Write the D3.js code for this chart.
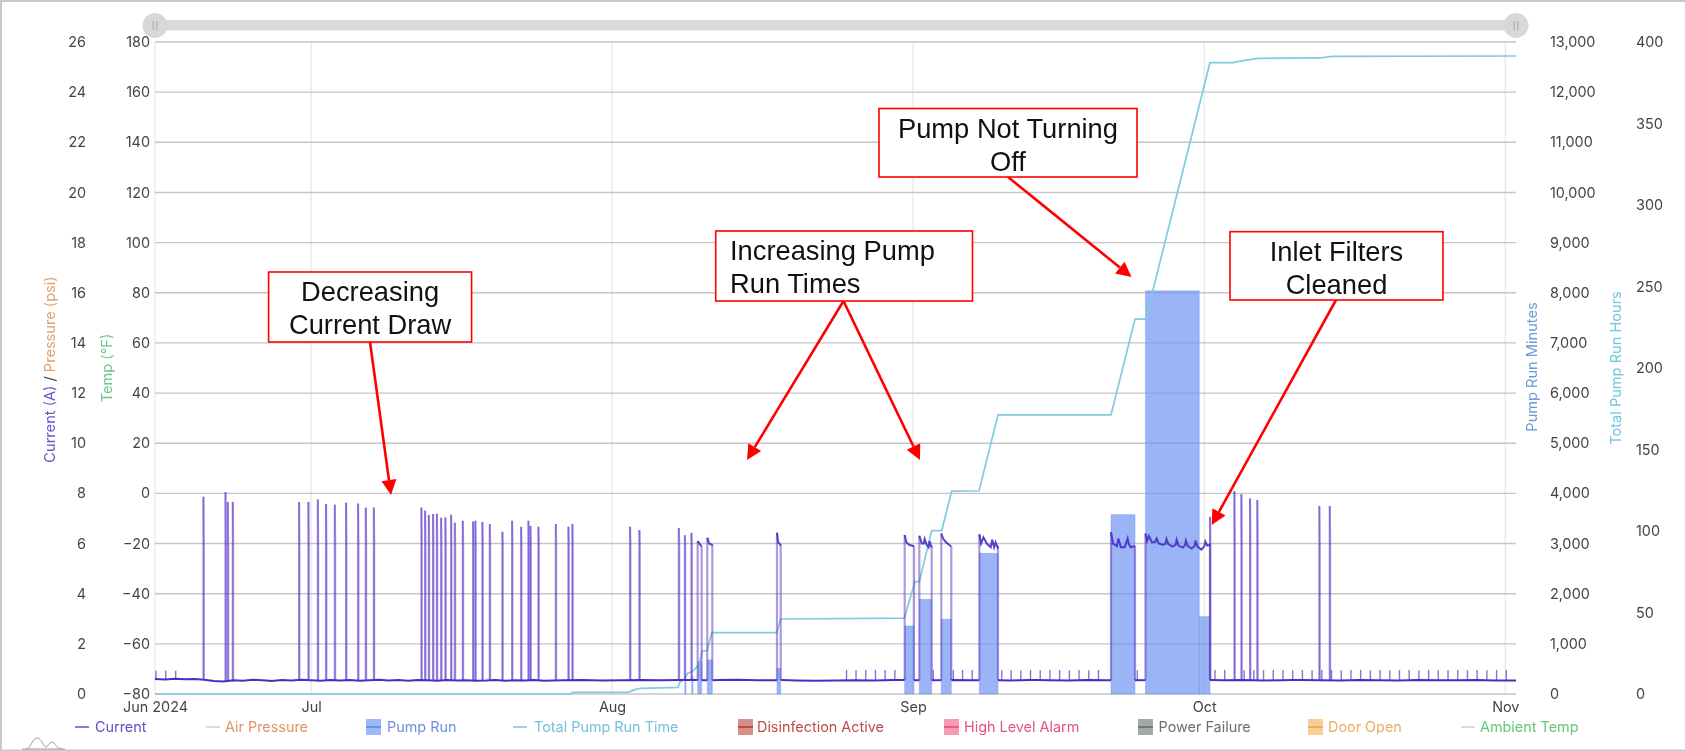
<!DOCTYPE html>
<html><head><meta charset="utf-8">
<script src="https://cdn.jsdelivr.net/npm/d3@7"></script>
<style>
html,body{margin:0;padding:0;background:#fff}
svg{display:block}
.tick text{font-family:Inter,"Liberation Sans",sans-serif;font-size:14.4px;fill:#444}
.ann{font-family:"Liberation Sans",Arial,sans-serif;font-size:27.3px;fill:#111}
.leg{font-family:Inter,"Liberation Sans",sans-serif;font-size:14.4px}
.ttl{font-family:Inter,"Liberation Sans",sans-serif;font-size:14.6px}
</style></head><body>
<div id="c"></div>
<script>
// All times are days since 1 Jun 2024
const xDomainDays=[13.93,154.1];
const xTickDays=[13.93,30,61,92,122,153];
const xTickLabels=["Jun 2024","Jul","Aug","Sep","Oct","Nov"];
const currentTicks=[0,2,4,6,8,10,12,14,16,18,20,22,24,26];
const pressureTicks=[-80,-60,-40,-20,0,20,40,60,80,100,120,140,160,180];
const pumpTicks=[0,1000,2000,3000,4000,5000,6000,7000,8000,9000,10000,11000,12000,13000];
const hourTicks=[0,50,100,150,200,250,300,350,400];

// Pump Run bars
const pumpStart=[68.49,69.21,69.82,70.81,77.99,91.14,92.65,94.91,98.83,112.39,115.94,121.48];
const pumpEnd  =[68.62,69.34,70.23,71.33,78.37,92.10,93.92,95.94,100.75,114.86,121.48,122.58];
const pumpMinutes=[245,345,644,678,512,1356,1887,1489,2805,3576,8040,1542];

// Total Pump Run Time
const totalDays=[13.93,56.8,56.9,62.75,63.26,63.9,67.8,68.0,68.4,68.8,69.2,69.75,70.06,70.27,70.8,71.27,77.96,78.37,91.1,92.2,92.65,93.92,94.95,95.98,98.8,100.75,112.39,114.86,115.96,122.58,124.95,125.67,127.53,133.9,135.15,154.1];
const totalHours=[0,0,1,1.2,2.5,3.5,4.1,7.4,8.6,12.9,13.5,16.6,19.8,26.4,26.6,37.6,37.6,46,46.6,68.9,68.9,100.2,100.2,124.5,124.7,171.2,171.2,230,230,387.3,387.3,388.3,390,390.2,391.2,391.4];

// Current: idle baseline
const baseDays=[13.93,15,16,17,18,19,20,21,22,23,24,25,26,27,28,29,30,31,32,33,34,35,36,37,38,39,40,41,42,43,44,45,46,47,48,49,50,51,52,53,54,55,56,58,60,62,64,66,68,70,72,74,76,78,80,82,84,86,88,90,92,94,96,98,100,102,104,106,108,110,112,114,116,118,120,122,124,126,128,130,132,134,136,138,140,142,144,146,148,150,152,154.1];
const baseAmps=[0.60,0.58,0.61,0.59,0.60,0.57,0.52,0.50,0.55,0.53,0.57,0.55,0.52,0.56,0.54,0.57,0.55,0.53,0.56,0.54,0.56,0.53,0.55,0.57,0.54,0.56,0.53,0.56,0.55,0.53,0.56,0.54,0.55,0.53,0.54,0.56,0.53,0.55,0.54,0.56,0.53,0.54,0.55,0.56,0.54,0.55,0.56,0.55,0.56,0.55,0.56,0.57,0.55,0.56,0.54,0.53,0.54,0.55,0.54,0.56,0.55,0.55,0.56,0.55,0.55,0.54,0.56,0.55,0.54,0.56,0.55,0.55,0.55,0.55,0.55,0.56,0.55,0.56,0.54,0.55,0.56,0.55,0.54,0.56,0.55,0.54,0.56,0.55,0.55,0.56,0.54,0.55];

// Current: tall start-up spikes
const spikeDays=[18.91,21.18,21.42,21.93,28.76,29.72,30.69,31.54,32.44,33.60,34.84,35.63,36.46,41.36,41.74,42.12,42.56,42.95,43.39,43.83,44.42,44.80,45.62,46.68,46.92,47.64,48.40,49.70,50.70,51.63,52.38,52.59,53.41,55.20,56.50,56.91,62.85,63.81,67.87,68.49,69.17,122.58,125.09,125.81,126.70,127.45,133.84,134.91];
const spikeAmps=[7.87,8.05,7.66,7.66,7.66,7.66,7.76,7.58,7.55,7.63,7.6,7.43,7.44,7.44,7.31,7.14,7.18,7.19,7.03,7.04,7.15,6.83,6.91,6.88,6.91,6.86,6.78,6.47,6.91,6.67,6.91,6.70,6.67,6.78,6.67,6.78,6.67,6.54,6.62,6.33,6.43,7.07,8.09,7.97,7.8,7.74,7.5,7.5];

// Current: small daily blips
const blipDays=[14.03,15.03,16.06,85.15,86.13,87.13,88.13,89.13,90.13,94.09,96.15,97.1,98.1,101.13,102.1,103.1,104.1,105.1,106.1,107.1,108.1,109.1,110.1,111.1,115.1,123.1,124.1,126.1,127.1,128.1,129.1,130.1,131.1,132.1,133.1,134.1,135.1,136.1,137.1,138.1,139.1,140.1,141.1,142.1,143.1,144.1,145.1,146.1,147.1,148.1,149.1,150.1,151.1,152.1,153.1];
const blipAmps=[0.93,0.93,0.93,0.96,0.96,0.96,0.96,0.96,0.96,0.96,0.96,0.96,0.96,0.95,0.96,0.95,0.96,0.95,0.96,0.96,0.95,0.96,0.95,0.96,0.95,0.96,0.96,0.95,0.96,0.95,0.96,0.96,0.95,0.96,0.95,0.96,0.96,0.95,0.96,0.96,0.95,0.96,0.95,0.96,0.96,0.95,0.96,0.95,0.96,0.96,0.95,0.96,0.95,0.96,0.96];

// Current: sustained pump-on periods
const runStart=[69.82,70.81,77.99,91.14,92.65,94.91,98.83,112.39,115.94];
const runEnd  =[70.23,71.33,78.37,92.10,93.92,95.94,100.75,114.86,122.58];
const runPeak =[6.1,6.23,6.43,6.34,6.31,6.4,6.37,6.45,6.4];
const plateauDays=[70.0,70.2,71.0,71.3,78.1,78.35,91.3,91.6,92.0,92.9,93.1,93.2,93.4,93.6,93.7,93.9,95.1,95.4,95.7,95.9,99.0,99.25,99.6,100.0,100.15,100.35,100.5,100.7,112.6,113.0,113.15,113.4,113.8,114.1,114.2,114.4,114.85,116.1,116.3,116.6,116.9,117.1,117.3,117.7,118.0,118.1,118.3,118.7,119.05,119.15,119.35,119.8,120.0,120.1,120.3,120.7,121.0,121.1,121.3,121.7,122.0,122.1,122.3,122.55];
const plateauAmps=[6.0,5.9,6.0,5.95,6.05,5.95,6.05,5.95,5.9,6.0,6.0,6.18,5.95,5.85,6.1,5.85,6.2,6.05,5.95,5.9,6.0,6.25,6.0,5.85,6.15,5.85,6.05,5.85,6.0,5.9,6.2,5.85,5.85,6.2,6.0,5.85,5.9,6.1,6.3,6.05,6.05,6.2,6.0,5.95,5.98,6.18,5.98,5.88,5.95,6.15,5.92,5.84,5.92,6.12,5.9,5.8,5.9,6.12,5.88,5.76,5.9,6.08,5.92,5.95];

const legendItems=[
 {name:"Current",kind:"line",x:75,tx:95,line:"#6a4cc8",text:"#6a4cc8"},
 {name:"Air Pressure",kind:"line",x:206,tx:225,line:"#cfcfcf",text:"#e09468"},
 {name:"Pump Run",kind:"box",x:366,tx:387,line:"#5f84ea",fill:"#9db8f6",text:"#6f8fe0"},
 {name:"Total Pump Run Time",kind:"line",x:513,tx:534,line:"#7cc6e0",text:"#74c2dc"},
 {name:"Disinfection Active",kind:"box",x:738,tx:757,line:"#b83a36",fill:"#d88f8c",text:"#bf4a48"},
 {name:"High Level Alarm",kind:"box",x:944,tx:964,line:"#e8507a",fill:"#f79ab2",text:"#e4547c"},
 {name:"Power Failure",kind:"box",x:1138,tx:1158.6,line:"#666c6c",fill:"#a4a8a8",text:"#6a7070"},
 {name:"Door Open",kind:"box",x:1308,tx:1328,line:"#eaa648",fill:"#f7cf94",text:"#e8b060"},
 {name:"Ambient Temp",kind:"line",x:1461,tx:1480,line:"#cfcfcf",text:"#60c878"}
];

const W=1685,H=751,L=155,R=1516,T=42,B=694;
const t0=Date.UTC(2024,5,1);
const toDate=d=>new Date(t0+d*864e5);
const x=d3.scaleUtc().domain(xDomainDays.map(toDate)).range([L,R]);
const xd=d=>x(toDate(d));
const yC=d3.scaleLinear().domain([0,26]).range([B,T]);
const yP=d3.scaleLinear().domain([-80,180]).range([B,T]);
const yM=d3.scaleLinear().domain([0,13000]).range([B,T]);
const yH=d3.scaleLinear().domain([0,400]).range([B,T]);

const svg=d3.select("#c").append("svg").attr("width",W).attr("height",H);
svg.append("defs").append("filter").attr("id","soft")
  .attr("filterUnits","userSpaceOnUse").attr("x",0).attr("y",0).attr("width",W).attr("height",H)
  .append("feGaussianBlur").attr("stdDeviation",0.5);

// page frame
svg.append("rect").attr("x",1).attr("y",1).attr("width",W+4).attr("height",H-1.5).attr("fill","none").attr("stroke","#c8c8c8").attr("stroke-width",2);

const g=svg.append("g").attr("filter","url(#soft)");

// slider
g.append("rect").attr("x",L).attr("y",20).attr("width",R-L).attr("height",10.5).attr("fill","#d9d9d9");
[L,R].forEach(cx=>{
  g.append("circle").attr("cx",cx).attr("cy",25.5).attr("r",12.5).attr("fill","#d8d8d8");
  [-1.8,1.8].forEach(o=>g.append("line").attr("x1",cx+o).attr("x2",cx+o).attr("y1",21).attr("y2",30).attr("stroke","#a8a8a8").attr("stroke-width",1));
});

// grid
g.append("g").selectAll("line").data(xTickDays).join("line")
  .attr("x1",d=>xd(d)).attr("x2",d=>xd(d)).attr("y1",T).attr("y2",B)
  .attr("stroke","#e6e6e6").attr("stroke-width",1.2);
g.append("g").selectAll("line").data(currentTicks).join("line")
  .attr("x1",L).attr("x2",R).attr("y1",d=>yC(d)).attr("y2",d=>yC(d))
  .attr("stroke","#c6c6c6").attr("stroke-width",1.4);

// axes
function style(a){a.select(".domain").remove();a.selectAll(".tick line").remove();}
g.append("g").attr("transform","translate(86,0)").call(d3.axisLeft(yC).tickValues(currentTicks).tickSize(0).tickPadding(0)).call(style);
g.append("g").attr("transform","translate(150,0)").call(d3.axisLeft(yP).tickValues(pressureTicks).tickSize(0).tickPadding(0)).call(style);
g.append("g").attr("transform","translate(1550,0)").call(d3.axisRight(yM).tickValues(pumpTicks).tickFormat(d3.format(",")).tickSize(0).tickPadding(0)).call(style);
g.append("g").attr("transform","translate(1636,0)").call(d3.axisRight(yH).tickValues(hourTicks).tickSize(0).tickPadding(0)).call(style);
g.append("g").attr("transform",`translate(0,${B+8})`)
  .call(d3.axisBottom(x).tickValues(xTickDays.map(toDate)).tickFormat((d,i)=>xTickLabels[i]).tickSize(0).tickPadding(0)).call(style);

// axis titles
function vtitle(px,py,parts){
  const t=g.append("text").attr("class","ttl").attr("text-anchor","middle").attr("transform",`translate(${px},${py}) rotate(-90)`);
  parts.forEach(p=>t.append("tspan").attr("fill",p[1]).text(p[0]));
}
vtitle(55,369.5,[["Current (A)","#6a55c8"],[" / ","#444"],["Pressure (psi)","#e0a070"]]);
vtitle(111.5,368,[["Temp (°F)","#6cc985"]]);
vtitle(1536.5,367,[["Pump Run Minutes","#6b9ad8"]]);
vtitle(1621,368,[["Total Pump Run Hours","#74c6e0"]]);

// pump bars
g.append("g").selectAll("rect").data(pumpMinutes).join("rect")
  .attr("x",(d,i)=>xd(pumpStart[i])).attr("width",(d,i)=>xd(pumpEnd[i])-xd(pumpStart[i]))
  .attr("y",d=>yM(d)).attr("height",d=>B-yM(d))
  .attr("fill","#6f94f2").attr("fill-opacity",0.7)
  .attr("stroke","#5f84ea").attr("stroke-opacity",0.35).attr("stroke-width",1);

// total pump run
const lineH=d3.line().x(d=>xd(d[0])).y(d=>yH(d[1]));
g.append("path").attr("d",lineH(totalDays.map((d,i)=>[d,totalHours[i]])))
  .attr("fill","none").attr("stroke","#84c8e2").attr("stroke-width",1.7);

// current
const lineC=d3.line().x(d=>xd(d[0])).y(d=>yC(d[1]));
const baseAt=d=>baseAmps[Math.max(0,d3.bisectLeft(baseDays,d)-1)];
const cur=g.append("g").attr("fill","none");
const legC="#5a35c8";
// spikes: an up leg and a down leg, drawn separately so the lower part reads darker
spikeDays.forEach((d,i)=>{
  cur.append("path").attr("d",lineC([[d,baseAt(d)],[d,spikeAmps[i]]]))
    .attr("stroke",legC).attr("stroke-opacity",.55).attr("stroke-width",1.9);
  cur.append("path").attr("d",lineC([[d+.02,spikeAmps[i]],[d+.06,6.0],[d+.06,baseAt(d)]]))
    .attr("stroke",legC).attr("stroke-opacity",.42).attr("stroke-width",1.9);
});
blipDays.forEach((d,i)=>{
  cur.append("path").attr("d",lineC([[d,baseAt(d)],[d,blipAmps[i]]]))
    .attr("stroke",legC).attr("stroke-opacity",.7).attr("stroke-width",1.4);
});
// sustained periods
runStart.forEach((s,i)=>{
  const e=runEnd[i];
  cur.append("path").attr("d",lineC([[s,baseAt(s)],[s,runPeak[i]]]))
    .attr("stroke",legC).attr("stroke-opacity",.5).attr("stroke-width",2.2);
  cur.append("path").attr("d",lineC([[e,5.9],[e,baseAt(e)]]))
    .attr("stroke",legC).attr("stroke-opacity",.5).attr("stroke-width",2.2);
  const pts=plateauDays.map((d,j)=>[d,plateauAmps[j]]).filter(p=>p[0]>=s&&p[0]<=e);
  cur.append("path").attr("d",lineC([[s,runPeak[i]],...pts,[e,5.9]]))
    .attr("stroke","#4a2fc6").attr("stroke-opacity",.9).attr("stroke-width",2);
});
// idle baseline, broken across pump-on periods
const gapA=[xDomainDays[0],...runEnd], gapB=[...runStart,xDomainDays[1]];
gapA.forEach((a,i)=>{
  const b=gapB[i];
  const pts=baseDays.map((d,j)=>[d,baseAmps[j]]).filter(p=>p[0]>a&&p[0]<b);
  cur.append("path").attr("d",lineC([[a,baseAt(a)],...pts,[b,baseAt(b)]]))
    .attr("stroke","#4a2fc6").attr("stroke-width",2);
});

// legend
const ly=727;
legendItems.forEach(it=>{
  if(it.kind==="box"){
    g.append("rect").attr("x",it.x).attr("y",ly-8).attr("width",15).attr("height",16).attr("fill",it.fill);
    g.append("line").attr("x1",it.x).attr("x2",it.x+15).attr("y1",ly).attr("y2",ly).attr("stroke",it.line).attr("stroke-width",1.6);
  }else{
    g.append("line").attr("x1",it.x).attr("x2",it.x+14).attr("y1",ly).attr("y2",ly).attr("stroke",it.line).attr("stroke-width",1.5);
  }
  g.append("text").attr("class","leg").attr("x",it.tx).attr("y",ly).attr("dy",".36em").attr("fill",it.text).text(it.name);
});

// logo mark
g.append("path").attr("d","M22 749 H65 M26 749 C31 749 32 738 37 738 C42 738 43 747 46 747 C48 747 49 742 52 742 C55 742 56 749 62 749")
  .attr("fill","none").attr("stroke","#9a9a9a").attr("stroke-width",1);

// annotations
const boxes=[
 {x:268.6,y:272,w:203,h:70,lines:["Decreasing","Current Draw"],anchor:"middle"},
 {x:715.7,y:231,w:256.8,h:70,lines:["Increasing Pump","Run Times"],anchor:"start",tx:730},
 {x:879,y:108.5,w:258,h:68.5,lines:["Pump Not Turning","Off"],anchor:"middle"},
 {x:1230,y:231.7,w:213,h:68.3,lines:["Inlet Filters","Cleaned"],anchor:"middle"}
];
const arrows=[[370,342,391,495],[843.5,301,747,460],[843.5,301,920,460],[1008,177,1131.5,277],[1336,300,1211.7,525]];
const ann=svg.append("g");
arrows.forEach(a=>{
  const dx=a[2]-a[0],dy=a[3]-a[1],n=Math.hypot(dx,dy),ux=dx/n,uy=dy/n,len=15,hw=7.5;
  const bx=a[2]-ux*len,by=a[3]-uy*len;
  ann.append("line").attr("x1",a[0]).attr("y1",a[1]).attr("x2",bx).attr("y2",by).attr("stroke","#f00").attr("stroke-width",2.6);
  ann.append("polygon").attr("points",`${a[2]},${a[3]} ${bx-uy*hw},${by+ux*hw} ${bx+uy*hw},${by-ux*hw}`).attr("fill","#f00");
});
boxes.forEach(b=>{
  ann.append("rect").attr("x",b.x).attr("y",b.y).attr("width",b.w).attr("height",b.h).attr("fill","#fff").attr("stroke","#f00").attr("stroke-width",1.6);
  b.lines.forEach((l,i)=>ann.append("text").attr("class","ann").attr("text-anchor",b.anchor)
    .attr("x",b.anchor==="middle"?b.x+b.w/2:b.tx).attr("y",b.y+29+i*33).text(l));
});
</script>
</body></html>
